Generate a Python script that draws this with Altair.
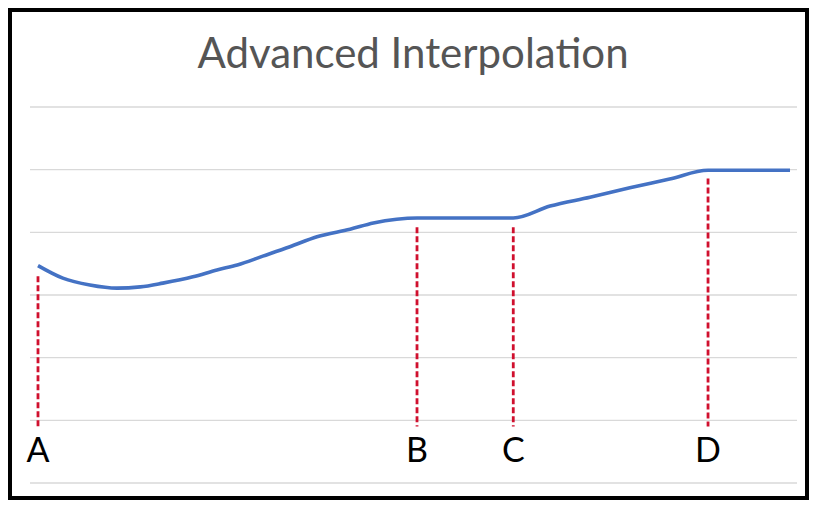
import altair as alt
import pandas as pd

# ---- data ----
line_x = [0, 3.3, 6.9, 10.5, 13.6, 16.6, 20.6, 23.8, 26.5, 29.9, 33.5, 37.1, 41.5, 44.6, 47.7,
          50.4, 63.2, 68.1, 73.4, 78.7, 84.0, 89.1, 100]
line_y = [3.47, 3.27, 3.16, 3.11, 3.13, 3.19, 3.29, 3.40, 3.48, 3.62, 3.77, 3.93, 4.05, 4.15, 4.21,
          4.23, 4.23, 4.42, 4.56, 4.71, 4.85, 4.99, 4.99]

marker_labels = ["A", "B", "C", "D"]
marker_x = [0, 50.4, 63.2, 89.1]
marker_top = [3.30, 4.08, 4.08, 4.86]
marker_bottom = [0.9, 0.9, 0.9, 0.9]
label_y = [0.335, 0.335, 0.335, 0.335]

grid_values = [0, 1, 2, 3, 4, 5, 6]
title_text = "Advanced Interpolation"

line_df = pd.DataFrame({"x": line_x, "y": line_y})
marker_df = pd.DataFrame({"label": marker_labels, "x": marker_x, "top": marker_top,
                          "bottom": marker_bottom, "ly": label_y})
grid_df = pd.DataFrame({"y": grid_values})
title_df = pd.DataFrame({"t": [title_text]})

xs = alt.Scale(domain=[-3.723, 102.26], nice=False, zero=False)
ys = alt.Scale(domain=[-0.239, 7.548], nice=False, zero=False)

grid = alt.Chart(grid_df).mark_rule(color="#d9d9d9", strokeWidth=1.3).encode(
    y=alt.Y("y:Q", scale=ys, axis=None),
    x=alt.value(20), x2=alt.value(787),
)

dashes = alt.Chart(marker_df).mark_rule(color="#d0102e", strokeWidth=2.8, strokeDash=[6, 3]).encode(
    x=alt.X("x:Q", scale=xs, axis=None),
    y=alt.Y("top:Q", scale=ys, axis=None),
    y2="bottom:Q",
)

line = alt.Chart(line_df).mark_line(color="#4472c4", strokeWidth=3.6, interpolate="monotone").encode(
    x=alt.X("x:Q", scale=xs, axis=None),
    y=alt.Y("y:Q", scale=ys, axis=None),
)

labels = alt.Chart(marker_df).mark_text(font="Lato", fontSize=34, color="#000000",
                                        align="center", baseline="alphabetic").encode(
    x=alt.X("x:Q", scale=xs, axis=None),
    y=alt.Y("ly:Q", scale=ys, axis=None),
    text="label:N",
)

title = alt.Chart(title_df).mark_text(font="Lato", fontSize=42, color="#555555",
                                      align="center", baseline="alphabetic").encode(
    x=alt.value(403), y=alt.value(58), text="t:N",
)

chart = alt.layer(grid, dashes, line, labels, title).properties(
    width=797, height=488, padding=2,
    autosize=alt.AutoSizeParams(type="none"),
    background="white",
).configure_view(stroke="black", strokeWidth=4)

chart.save("out.html", embed_options={"renderer": "svg", "actions": False})
